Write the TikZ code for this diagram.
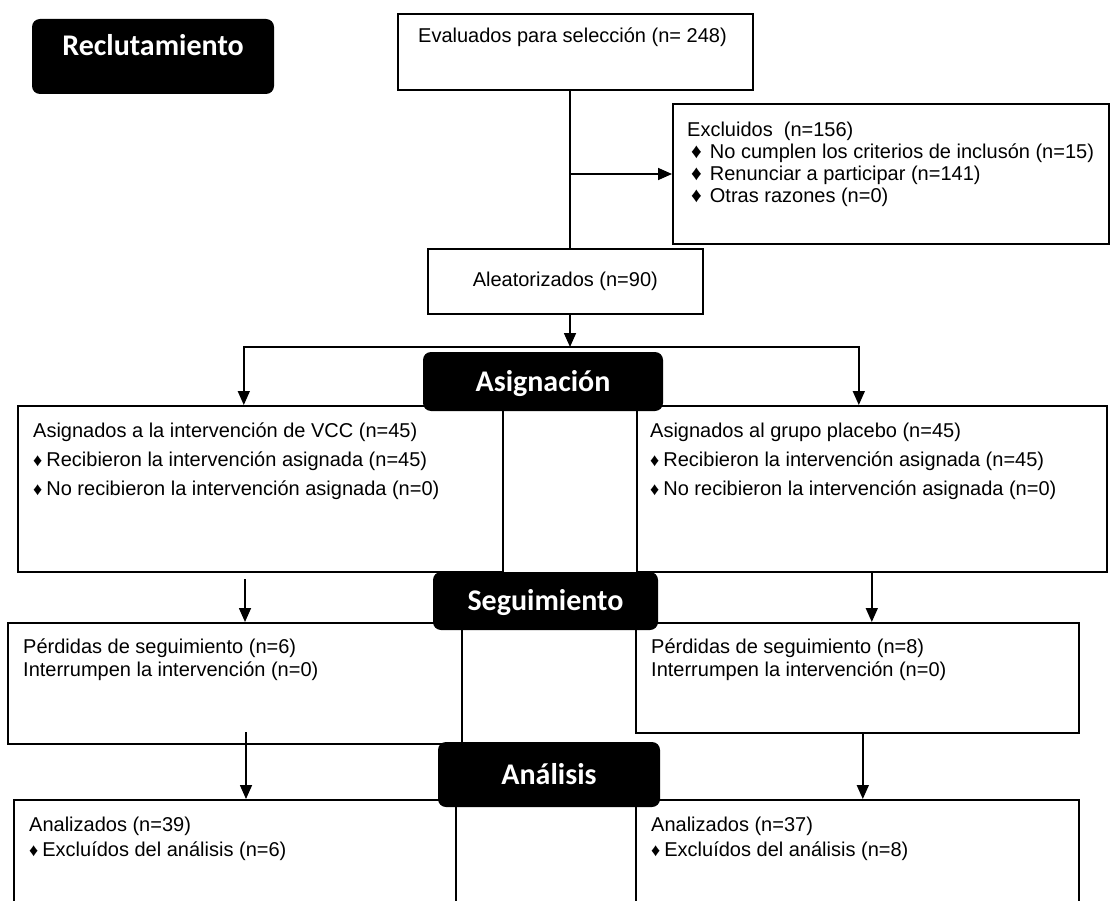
\documentclass[tikz,border=0pt]{standalone}
\usepackage{fontspec}
\setmainfont{Liberation Sans}
\newfontfamily\phasefont{Carlito}
\usepackage{tikz}
\usetikzlibrary{positioning,arrows.meta}
\tikzstyle{every node}=[font=\fontsize{20}{22}\selectfont]
\tikzstyle{box}=[rectangle, draw=black, line width=1.6pt, fill=white,
  inner sep=0pt, anchor=north west]
\tikzstyle{phase}=[rectangle, rounded corners=8pt, fill=black, text=white,
  inner sep=0pt, text height=19pt, text depth=0pt,
  font=\phasefont\bfseries\fontsize{30}{31}\selectfont]
\tikzstyle{txt}=[inner sep=0pt, anchor=north west, align=left]
\tikzstyle{link}=[draw, line width=1.6pt]
\tikzstyle{line}=[link, -{Triangle[length=14pt,width=12pt]}]
\newcommand{\rombo}[1][18]{\raisebox{0.5pt}{\fontsize{#1}{#1}\selectfont ♦}}

\begin{document}
\begin{tikzpicture}[x=1pt, y=-1pt]
    \useasboundingbox (0,0) rectangle (1110,901);
    \clip (0,0) rectangle (1110,901);
    % reclutamiento
    \node (evalbox) [box, minimum width=355pt, minimum height=76pt] at (397,13) {};
    \node (evaltxt) [txt] at ([shift={(21,15)}]evalbox.north west)
          {Evaluados para selección (n= 248)};
    \node (exclbox) [box, minimum width=436pt, minimum height=140pt] at (672,103) {};
    \node (excltxt) [txt] at ([shift={(15,19)}]exclbox.north west)
          {Excluidos\ \ (n=156)\\
           \hspace{4pt}\rombo[21]\hspace{8pt}No cumplen los criterios de inclusón (n=15)\\
           \hspace{4pt}\rombo[21]\hspace{8pt}Renunciar a participar (n=141)\\
           \hspace{4pt}\rombo[21]\hspace{8pt}Otras razones (n=0)};
    \node (randbox) [box, minimum width=275pt, minimum height=65pt] at (427,248)
          {Aleatorizados (n=90)};
    % asignacion
    \node (leftasig) [box, minimum width=485pt, minimum height=166pt] at (17,405) {};
    \node (lasigtxt) [txt, font=\fontsize{20}{29}\selectfont]
          at ([shift={(16,18)}]leftasig.north west)
          {Asignados a la intervención de VCC (n=45)\\
           \rombo\hspace{4pt}Recibieron la intervención asignada (n=45)\\
           \rombo\hspace{4pt}No recibieron la intervención asignada (n=0)};
    \node (rightasig) [box, minimum width=470pt, minimum height=166pt] at (636,405) {};
    \node (rasigtxt) [txt, font=\fontsize{20}{29}\selectfont]
          at ([shift={(14,18)}]rightasig.north west)
          {Asignados al grupo placebo (n=45)\\
           \rombo\hspace{4pt}Recibieron la intervención asignada (n=45)\\
           \rombo\hspace{4pt}No recibieron la intervención asignada (n=0)};
    % seguimiento
    \node (leftseg) [box, minimum width=454pt, minimum height=121pt] at (7,622) {};
    \node (lsegtxt) [txt, font=\fontsize{20}{23}\selectfont]
          at ([shift={(16,17)}]leftseg.north west)
          {Pérdidas de seguimiento (n=6)\\
           Interrumpen la intervención (n=0)};
    \node (rightseg) [box, minimum width=443pt, minimum height=110pt] at (635,622) {};
    \node (rsegtxt) [txt, font=\fontsize{20}{23}\selectfont]
          at ([shift={(16,17)}]rightseg.north west)
          {Pérdidas de seguimiento (n=8)\\
           Interrumpen la intervención (n=0)};
    % analisis
    \node (leftanal) [box, minimum width=442pt, minimum height=160pt] at (13,799) {};
    \node (lanaltxt) [txt, font=\fontsize{20}{25}\selectfont]
          at ([shift={(16,18)}]leftanal.north west)
          {Analizados (n=39)\\
           \rombo\hspace{4pt}Excluídos del análisis (n=6)};
    \node (rightanal) [box, minimum width=443pt, minimum height=160pt] at (635,799) {};
    \node (ranaltxt) [txt, font=\fontsize{20}{25}\selectfont]
          at ([shift={(16,18)}]rightanal.north west)
          {Analizados (n=37)\\
           \rombo\hspace{4pt}Excluídos del análisis (n=8)};
    % connectors
    \coordinate (split) at (570,174);
    \coordinate (fork) at (570,347);
    \coordinate (lseg) at (245,579);
    \coordinate (lanal) at (246,732);
    \coordinate (ranal) at ([xshift=5.5pt]rightseg.south);
    \draw[link] (split |- evalbox.south) -- (split |- randbox.north);
    \draw[line] (split) -- (split -| exclbox.west);
    \draw[line] (split |- randbox.south) -- (fork);
    \draw[line] (fork) -| ([xshift=-16.5pt]leftasig.north);
    \draw[line] (fork) -| ([xshift=-13pt]rightasig.north);
    \draw[line] (lseg) -- (lseg |- leftseg.north);
    \draw[line] (rightasig.south) -- (rightasig.south |- rightseg.north);
    \draw[line] (lanal) -- (lanal |- leftanal.north);
    \draw[line] (ranal) -- (ranal |- rightanal.north);
    % fases
    \node (reclut) [phase, minimum width=242pt, minimum height=75pt, text depth=20pt]
          at (153,56.5) {Reclutamiento};
    \node (asign) [phase, minimum width=240pt, minimum height=59pt] at (543,381.5)
          {Asignación};
    \node (segui) [phase, minimum width=225pt, minimum height=58pt] at (545.5,601)
          {Seguimiento};
    \node (anali) [phase, minimum width=222pt, minimum height=65pt] at (549,774.5)
          {Análisis};
\end{tikzpicture}
\end{document}
